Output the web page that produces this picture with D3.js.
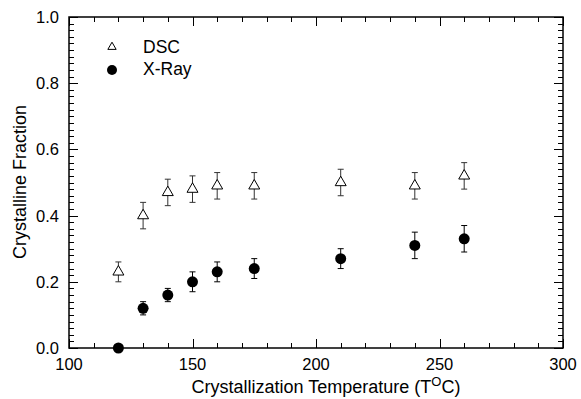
<!DOCTYPE html>
<html>
<head>
<meta charset="utf-8">
<script src="https://cdn.jsdelivr.net/npm/d3@7"></script>
<style>
  body { margin: 0; background: #fff; }
  text { font-family: "Liberation Sans", Arial, sans-serif; fill: #000; }
</style>
</head>
<body>
<div id="chart"></div>
<script>
// data
var temps = [120, 130, 140, 150, 160, 175, 210, 240, 260];
var dsc = [0.23, 0.40, 0.47, 0.48, 0.49, 0.49, 0.50, 0.49, 0.52];
var dscErr = [0.03, 0.04, 0.04, 0.04, 0.04, 0.04, 0.04, 0.04, 0.04];
var xray = [0.0, 0.12, 0.16, 0.20, 0.23, 0.24, 0.27, 0.31, 0.33];
var xrayErr = [0, 0.02, 0.02, 0.03, 0.03, 0.03, 0.03, 0.04, 0.04];
var xTicks = [100, 150, 200, 250, 300];
var yTicks = [0.0, 0.2, 0.4, 0.6, 0.8, 1.0];

var W = 581, H = 399;
var m = { left: 69, right: 18, top: 17, bottom: 51 };

var svg = d3.select("#chart").append("svg")
  .attr("width", W)
  .attr("height", H);

var x = d3.scaleLinear().domain([100, 300]).range([m.left, W - m.right]);
var y = d3.scaleLinear().domain([0, 1]).range([H - m.bottom, m.top]);

var g = svg.append("g");

// minor + major ticks, drawn inward on all four sides
var xMinor = d3.range(100, 301, 10);
var yMinor = d3.range(0, 1.0001, 0.02);

function tickLine(x1, y1, x2, y2) {
  g.append("line")
    .attr("x1", x1).attr("y1", y1).attr("x2", x2).attr("y2", y2)
    .attr("stroke", "#000").attr("stroke-width", 1);
}

xMinor.forEach(function (v) {
  var major = v % 50 === 0;
  var len = major ? 9 : 5;
  var px = Math.round(x(v)) + 0.5;
  tickLine(px, y(0), px, y(0) - len);
  tickLine(px, y(1), px, y(1) + len);
});
yMinor.forEach(function (v) {
  var major = Math.abs(v * 5 - Math.round(v * 5)) < 1e-6;
  var len = major ? 9 : 5;
  var py = Math.round(y(v)) + 0.5;
  tickLine(x(100), py, x(100) + len, py);
  tickLine(x(300), py, x(300) - len, py);
});

// frame
g.append("rect")
  .attr("x", x(100)).attr("y", y(1))
  .attr("width", x(300) - x(100)).attr("height", y(0) - y(1))
  .attr("fill", "none").attr("stroke", "#000").attr("stroke-width", 1.5);

// tick labels
g.selectAll(".xl").data(xTicks).enter().append("text")
  .attr("x", function (d) { return x(d); })
  .attr("y", H - m.bottom + 22)
  .attr("text-anchor", "middle")
  .attr("font-size", "16.5px")
  .text(function (d) { return d; });

g.selectAll(".yl").data(yTicks).enter().append("text")
  .attr("x", m.left - 10)
  .attr("y", function (d) { return y(d) + 6; })
  .attr("text-anchor", "end")
  .attr("font-size", "16.5px")
  .text(function (d) { return d.toFixed(1); });

// axis titles
var xt = svg.append("text")
  .attr("x", 326).attr("y", 393)
  .attr("text-anchor", "middle")
  .attr("font-size", "18px");
xt.append("tspan").text("Crystallization Temperature (T");
xt.append("tspan").attr("dy", -7).attr("font-size", "13px").text("O");
xt.append("tspan").attr("dy", 7).text("C)");

svg.append("text")
  .attr("transform", "translate(26," + 182 + ") rotate(-90)")
  .attr("text-anchor", "middle")
  .attr("font-size", "18px")
  .text("Crystalline Fraction");

// error bars
function errBars(vals, errs, color) {
  var eb = g.append("g").attr("stroke", color).attr("stroke-width", 1);
  temps.forEach(function (t, i) {
    if (!errs[i]) return;
    var cx = x(t);
    var y1 = y(vals[i] + errs[i]), y2 = y(vals[i] - errs[i]);
    eb.append("line").attr("x1", cx).attr("x2", cx).attr("y1", y1).attr("y2", y2);
    eb.append("line").attr("x1", cx - 3).attr("x2", cx + 3).attr("y1", y1).attr("y2", y1);
    eb.append("line").attr("x1", cx - 3).attr("x2", cx + 3).attr("y1", y2).attr("y2", y2);
  });
}
errBars(dsc, dscErr, "#333");
errBars(xray, xrayErr, "#000");

// markers
var tri = d3.symbol().type(d3.symbolTriangle).size(52);
g.selectAll(".dsc").data(temps).enter().append("path")
  .attr("d", tri)
  .attr("transform", function (d, i) { return "translate(" + x(d) + "," + y(dsc[i]) + ")"; })
  .attr("fill", "#fff").attr("stroke", "#000").attr("stroke-width", 1);

g.selectAll(".xr").data(temps).enter().append("circle")
  .attr("cx", function (d) { return x(d); })
  .attr("cy", function (d, i) { return y(xray[i]); })
  .attr("r", 5.5)
  .attr("fill", "#000");

// legend
var lg = svg.append("g");
lg.append("path")
  .attr("d", d3.symbol().type(d3.symbolTriangle).size(30))
  .attr("transform", "translate(112,47)")
  .attr("fill", "#fff").attr("stroke", "#000");
lg.append("text").attr("x", 143).attr("y", 53).attr("font-size", "17.5px").text("DSC");
lg.append("circle").attr("cx", 112).attr("cy", 70).attr("r", 5).attr("fill", "#000");
lg.append("text").attr("x", 143).attr("y", 75).attr("font-size", "17.5px").text("X-Ray");
</script>
</body>
</html>
